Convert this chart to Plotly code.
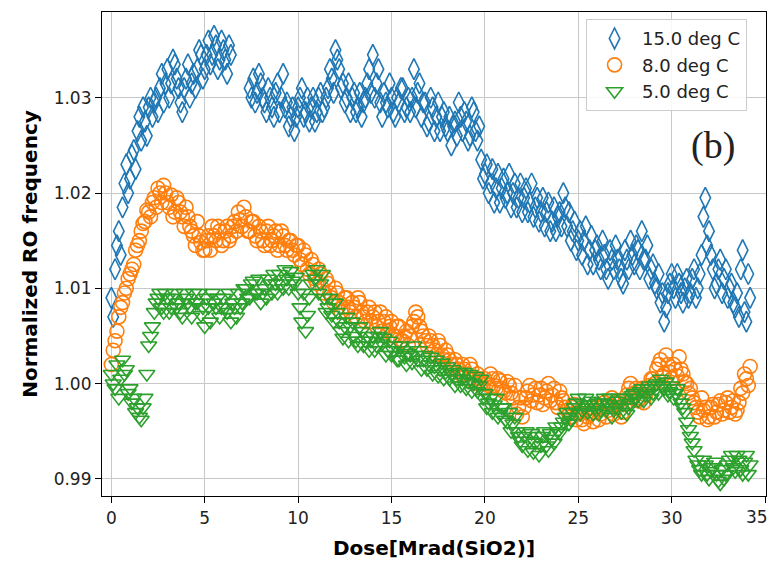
import plotly.graph_objects as go

# Dose samples (Mrad(SiO2)), two interleaved read-off grids
dose_a = [
    0.0, 0.2, 0.4, 0.6, 0.8, 1.0, 1.2, 1.4, 1.6, 1.8,
    2.0, 2.2, 2.4, 2.6, 2.8, 3.0, 3.2, 3.4, 3.6, 3.8,
    4.0, 4.2, 4.4, 4.6, 4.8, 5.0, 5.2, 5.4, 5.6, 5.8,
    6.0, 6.2, 6.4, 6.6, 6.8, 7.0, 7.2, 7.4, 7.6, 7.8,
    8.0, 8.2, 8.4, 8.6, 8.8, 9.0, 9.2, 9.4, 9.6, 9.8,
    10.0, 10.2, 10.4, 10.6, 10.8, 11.0, 11.2, 11.4, 11.6, 11.8,
    12.0, 12.2, 12.4, 12.6, 12.8, 13.0, 13.2, 13.4, 13.6, 13.8,
    14.0, 14.2, 14.4, 14.6, 14.8, 15.0, 15.2, 15.4, 15.6, 15.8,
    16.0, 16.2, 16.4, 16.6, 16.8, 17.0, 17.2, 17.4, 17.6, 17.8,
    18.0, 18.2, 18.4, 18.6, 18.8, 19.0, 19.2, 19.4, 19.6, 19.8,
    20.0, 20.2, 20.4, 20.6, 20.8, 21.0, 21.2, 21.4, 21.6, 21.8,
    22.0, 22.2, 22.4, 22.6, 22.8, 23.0, 23.2, 23.4, 23.6, 23.8,
    24.0, 24.2, 24.4, 24.6, 24.8, 25.0, 25.2, 25.4, 25.6, 25.8,
    26.0, 26.2, 26.4, 26.6, 26.8, 27.0, 27.2, 27.4, 27.6, 27.8,
    28.0, 28.2, 28.4, 28.6, 28.8, 29.0, 29.2, 29.4, 29.6, 29.8,
    30.0, 30.2, 30.4, 30.6, 30.8, 31.0, 31.2, 31.4, 31.6, 31.8,
    32.0, 32.2, 32.4, 32.6, 32.8, 33.0, 33.2, 33.4, 33.6, 33.8,
    34.0, 34.2,
]
dose_b = [
    0.1, 0.3, 0.5, 0.7, 0.9, 1.1, 1.3, 1.5, 1.7, 1.9,
    2.1, 2.3, 2.5, 2.7, 2.9, 3.1, 3.3, 3.5, 3.7, 3.9,
    4.1, 4.3, 4.5, 4.7, 4.9, 5.1, 5.3, 5.5, 5.7, 5.9,
    6.1, 6.3, 6.5, 6.7, 6.9, 7.1, 7.3, 7.5, 7.7, 7.9,
    8.1, 8.3, 8.5, 8.7, 8.9, 9.1, 9.3, 9.5, 9.7, 9.9,
    10.1, 10.3, 10.5, 10.7, 10.9, 11.1, 11.3, 11.5, 11.7, 11.9,
    12.1, 12.3, 12.5, 12.7, 12.9, 13.1, 13.3, 13.5, 13.7, 13.9,
    14.1, 14.3, 14.5, 14.7, 14.9, 15.1, 15.3, 15.5, 15.7, 15.9,
    16.1, 16.3, 16.5, 16.7, 16.9, 17.1, 17.3, 17.5, 17.7, 17.9,
    18.1, 18.3, 18.5, 18.7, 18.9, 19.1, 19.3, 19.5, 19.7, 19.9,
    20.1, 20.3, 20.5, 20.7, 20.9, 21.1, 21.3, 21.5, 21.7, 21.9,
    22.1, 22.3, 22.5, 22.7, 22.9, 23.1, 23.3, 23.5, 23.7, 23.9,
    24.1, 24.3, 24.5, 24.7, 24.9, 25.1, 25.3, 25.5, 25.7, 25.9,
    26.1, 26.3, 26.5, 26.7, 26.9, 27.1, 27.3, 27.5, 27.7, 27.9,
    28.1, 28.3, 28.5, 28.7, 28.9, 29.1, 29.3, 29.5, 29.7, 29.9,
    30.1, 30.3, 30.5, 30.7, 30.9, 31.1, 31.3, 31.5, 31.7, 31.9,
    32.1, 32.3, 32.5, 32.7, 32.9, 33.1, 33.3, 33.5, 33.7, 33.9,
    34.1,
]

freq_15C_a = [
    1.0090, 1.0120, 1.0160, 1.0185, 1.0230, 1.0215, 1.0245, 1.0265, 1.0255, 1.0275,
    1.0290, 1.0280, 1.0300, 1.0310, 1.0295, 1.0330, 1.0315, 1.0335, 1.0310, 1.0285,
    1.0320, 1.0300, 1.0325, 1.0330, 1.0345, 1.0330, 1.0360, 1.0345, 1.0355, 1.0340,
    1.0350, 1.0325, 1.0345, None, None, None, None, 1.0310, 1.0320, 1.0305,
    1.0315, 1.0295, 1.0310, 1.0290, 1.0305, 1.0285, 1.0325, 1.0295, 1.0280, 1.0265,
    1.0290, 1.0310, 1.0285, 1.0275, 1.0300, 1.0285, 1.0305, 1.0290, 1.0310, 1.0320,
    1.0350, 1.0330, 1.0315, 1.0300, 1.0285, 1.0305, 1.0290, 1.0280, 1.0300, 1.0330,
    1.0345, 1.0315, 1.0295, 1.0305, 1.0290, 1.0300, 1.0280, 1.0295, 1.0310, 1.0290,
    1.0285, 1.0330, 1.0305, 1.0280, 1.0295, 1.0275, 1.0290, 1.0280, 1.0265, 1.0285,
    1.0265, 1.0250, 1.0275, 1.0295, 1.0265, 1.0275, 1.0260, 1.0285, 1.0255, 1.0235,
    1.0220, 1.0200, 1.0225, 1.0205, 1.0190, 1.0215, 1.0200, 1.0185, 1.0210, 1.0195,
    1.0180, 1.0205, 1.0190, 1.0175, 1.0195, 1.0180, 1.0165, 1.0190, 1.0170, 1.0160,
    1.0180, 1.0200, 1.0165, 1.0150, 1.0170, 1.0150, 1.0135, 1.0165, 1.0140, 1.0125,
    1.0145, 1.0120, 1.0135, 1.0110, 1.0130, 1.0145, 1.0120, 1.0105, 1.0130, 1.0150,
    1.0125, 1.0140, 1.0160, 1.0130, 1.0110, 1.0125, 1.0100, 1.0085, 1.0065, 1.0095,
    1.0115, 1.0090, 1.0105, 1.0085, 1.0110, 1.0095, 1.0120, 1.0100, 1.0135, 1.0195,
    1.0160, 1.0120, 1.0105, 1.0130, 1.0110, 1.0090, 1.0105, 1.0080, 1.0070, 1.0140,
    1.0065, 1.0090,
]
freq_15C_b = [
    1.0070, 1.0145, 1.0135, 1.0210, 1.0200, 1.0240, 1.0225, 1.0280, 1.0290, 1.0260,
    1.0300, 1.0295, 1.0285, 1.0325, 1.0315, 1.0300, 1.0340, 1.0320, 1.0295, 1.0310,
    1.0335, 1.0315, 1.0310, 1.0350, 1.0320, 1.0345, 1.0335, 1.0365, 1.0330, 1.0360,
    1.0340, 1.0355, None, None, None, None, None, 1.0300, 1.0295, 1.0325,
    1.0300, 1.0285, 1.0300, 1.0280, 1.0315, 1.0300, 1.0290, 1.0270, 1.0290, 1.0280,
    1.0300, 1.0280, 1.0300, 1.0290, 1.0275, 1.0300, 1.0285, 1.0300, 1.0330, 1.0305,
    1.0340, 1.0310, 1.0295, 1.0315, 1.0300, 1.0285, 1.0305, 1.0295, 1.0315, 1.0305,
    1.0300, 1.0330, 1.0280, 1.0295, 1.0315, 1.0285, 1.0300, 1.0310, 1.0285, 1.0300,
    1.0300, 1.0290, 1.0315, 1.0295, 1.0270, 1.0300, 1.0265, 1.0295, 1.0280, 1.0270,
    1.0280, 1.0270, 1.0260, 1.0280, 1.0285, 1.0255, 1.0290, 1.0265, 1.0270, 1.0215,
    1.0230, 1.0210, 1.0190, 1.0220, 1.0205, 1.0195, 1.0220, 1.0200, 1.0185, 1.0210,
    1.0195, 1.0180, 1.0210, 1.0185, 1.0170, 1.0195, 1.0180, 1.0160, 1.0185, 1.0175,
    1.0165, 1.0185, 1.0180, 1.0160, 1.0140, 1.0160, 1.0150, 1.0125, 1.0155, 1.0140,
    1.0130, 1.0150, 1.0120, 1.0140, 1.0120, 1.0130, 1.0110, 1.0140, 1.0120, 1.0135,
    1.0145, 1.0120, 1.0130, 1.0145, 1.0120, 1.0105, 1.0115, 1.0095, 1.0080, 1.0105,
    1.0100, 1.0115, 1.0095, 1.0100, 1.0090, 1.0110, 1.0090, 1.0115, 1.0175, 1.0145,
    1.0135, 1.0100, 1.0120, 1.0095, 1.0120, 1.0100, 1.0085, 1.0095, 1.0120, 1.0075,
    1.0115,
]

freq_8C_a = [
    1.0020, 1.0045, 1.0070, 1.0085, 1.0100, 1.0115, 1.0125, 1.0145, 1.0160, 1.0170,
    1.0180, 1.0190, 1.0185, 1.0200, 1.0208, 1.0190, 1.0198, 1.0180, 1.0190, 1.0175,
    1.0185, 1.0165, 1.0155, 1.0170, 1.0148, 1.0140, 1.0155, 1.0165, 1.0150, 1.0160,
    1.0150, 1.0165, 1.0155, 1.0170, 1.0180, 1.0165, 1.0175, 1.0160, 1.0170, 1.0150,
    1.0160, 1.0145, 1.0165, 1.0150, 1.0160, 1.0145, 1.0155, 1.0140, 1.0150, 1.0135,
    1.0145, 1.0125, 1.0135, 1.0115, 1.0125, 1.0105, 1.0115, 1.0095, 1.0105, 1.0090,
    1.0100, 1.0085, 1.0080, 1.0090, 1.0075, 1.0080, 1.0090, 1.0075, 1.0065, 1.0080,
    1.0070, 1.0060, 1.0075, 1.0065, 1.0055, 1.0065, 1.0050, 1.0060, 1.0045, 1.0055,
    1.0050, 1.0065, 1.0070, 1.0055, 1.0045, 1.0050, 1.0040, 1.0030, 1.0040, 1.0025,
    1.0030, 1.0020, 1.0025, 1.0015, 1.0020, 1.0010, 1.0020, 1.0005, 1.0010, 1.0000,
    1.0005, 0.9998, 1.0005, 0.9995, 1.0003, 0.9992, 1.0002, 0.9990, 0.9998, 0.9975,
    0.9965, 0.9985, 0.9998, 0.9988, 0.9980, 0.9995, 0.9985, 1.0000, 0.9988, 0.9980,
    0.9992, 0.9982, 0.9972, 0.9965, 0.9978, 0.9970, 0.9962, 0.9972, 0.9968, 0.9960,
    0.9975, 0.9968, 0.9980, 0.9972, 0.9985, 0.9975, 0.9982, 0.9970, 0.9988, 1.0000,
    0.9990, 0.9982, 0.9995, 0.9988, 0.9998, 1.0005, 1.0015, 1.0025, 1.0010, 1.0020,
    1.0005, 1.0015, 1.0028, 1.0010, 1.0000, 0.9995, 0.9980, 0.9970, 0.9985, 0.9975,
    0.9965, 0.9978, 0.9970, 0.9982, 0.9972, 0.9985, 0.9975, 0.9968, 0.9980, 0.9990,
    1.0005, 1.0018,
]
freq_8C_b = [
    1.0035, 1.0055, 1.0080, 1.0095, 1.0110, 1.0120, 1.0140, 1.0150, 1.0168, 1.0182,
    1.0175, 1.0195, 1.0205, 1.0190, 1.0200, 1.0185, 1.0175, 1.0195, 1.0180, 1.0165,
    1.0175, 1.0160, 1.0145, 1.0155, 1.0140, 1.0150, 1.0140, 1.0155, 1.0165, 1.0145,
    1.0160, 1.0150, 1.0165, 1.0160, 1.0172, 1.0185, 1.0160, 1.0170, 1.0155, 1.0165,
    1.0150, 1.0160, 1.0145, 1.0155, 1.0140, 1.0160, 1.0145, 1.0150, 1.0140, 1.0145,
    1.0130, 1.0140, 1.0120, 1.0130, 1.0110, 1.0120, 1.0100, 1.0110, 1.0095, 1.0085,
    1.0095, 1.0075, 1.0090, 1.0080, 1.0085, 1.0070, 1.0085, 1.0070, 1.0075, 1.0065,
    1.0075, 1.0065, 1.0055, 1.0070, 1.0060, 1.0050, 1.0060, 1.0045, 1.0050, 1.0040,
    1.0060, 1.0075, 1.0060, 1.0050, 1.0040, 1.0045, 1.0035, 1.0045, 1.0030, 1.0035,
    1.0025, 1.0015, 1.0020, 1.0010, 1.0015, 1.0005, 1.0015, 1.0000, 1.0005, 0.9995,
    1.0000, 1.0010, 0.9998, 1.0005, 0.9995, 0.9990, 0.9998, 0.9985, 0.9968, 0.9985,
    0.9975, 0.9992, 0.9982, 0.9995, 0.9988, 0.9978, 0.9992, 0.9982, 0.9995, 0.9975,
    0.9985, 0.9975, 0.9968, 0.9975, 0.9962, 0.9968, 0.9958, 0.9965, 0.9975, 0.9970,
    0.9962, 0.9975, 0.9965, 0.9978, 0.9968, 0.9980, 0.9965, 0.9978, 0.9995, 0.9985,
    0.9995, 0.9985, 0.9980, 0.9995, 1.0005, 1.0000, 1.0020, 1.0008, 1.0030, 1.0012,
    1.0020, 1.0008, 1.0015, 1.0002, 0.9990, 0.9985, 0.9975, 0.9965, 0.9972, 0.9962,
    0.9975, 0.9965, 0.9978, 0.9968, 0.9980, 0.9970, 0.9982, 0.9972, 0.9995, 1.0010,
    0.9998,
]

freq_5C_a = [
    1.0010, 0.9995, 0.9985, 1.0025, 1.0015, 0.9995, 0.9985, 0.9975, 0.9962, 0.9985,
    1.0040, 1.0060, 1.0085, 1.0095, 1.0075, 1.0090, 1.0080, 1.0095, 1.0085, 1.0070,
    1.0090, 1.0080, 1.0095, 1.0085, 1.0072, 1.0060, 1.0080, 1.0095, 1.0080, 1.0070,
    1.0090, 1.0075, 1.0065, 1.0080, 1.0095, 1.0085, 1.0100, 1.0090, 1.0108, 1.0095,
    1.0085, 1.0100, 1.0110, 1.0095, 1.0105, 1.0115, 1.0100, 1.0110, 1.0118, 1.0105,
    1.0095, 1.0065, 1.0055, 1.0090, 1.0115, 1.0120, 1.0105, 1.0090, 1.0080, 1.0072,
    1.0085, 1.0065, 1.0048, 1.0070, 1.0060, 1.0050, 1.0040, 1.0055, 1.0045, 1.0035,
    1.0050, 1.0040, 1.0055, 1.0048, 1.0035, 1.0030, 1.0040, 1.0025, 1.0035, 1.0020,
    1.0030, 1.0040, 1.0025, 1.0015, 1.0030, 1.0020, 1.0010, 1.0025, 1.0015, 1.0005,
    1.0018, 1.0010, 0.9998, 1.0012, 1.0005, 0.9995, 1.0010, 1.0000, 0.9992, 1.0005,
    0.9990, 0.9980, 0.9970, 0.9985, 0.9968, 0.9975, 0.9960, 0.9950, 0.9965, 0.9945,
    0.9935, 0.9950, 0.9940, 0.9928, 0.9945, 0.9935, 0.9950, 0.9930, 0.9942, 0.9955,
    0.9948, 0.9960, 0.9970, 0.9962, 0.9975, 0.9985, 0.9972, 0.9985, 0.9978, 0.9968,
    0.9980, 0.9972, 0.9985, 0.9978, 0.9965, 0.9975, 0.9985, 0.9978, 0.9968, 0.9980,
    0.9990, 0.9982, 0.9995, 0.9988, 0.9998, 0.9990, 1.0000, 1.0005, 0.9995, 0.9988,
    0.9998, 0.9990, 0.9985, 0.9975, 0.9960, 0.9945, 0.9930, 0.9915, 0.9905, 0.9915,
    0.9900, 0.9912, 0.9905, 0.9895, 0.9900, 0.9915, 0.9925, 0.9908, 0.9920, 0.9905,
    0.9925, 0.9915,
]
freq_5C_b = [
    1.0000, 1.0020, 1.0005, 1.0010, 0.9990, 0.9980, 0.9970, 0.9965, 0.9975, 1.0010,
    1.0050, 1.0075, 1.0090, 1.0080, 1.0095, 1.0075, 1.0090, 1.0080, 1.0075, 1.0095,
    1.0085, 1.0070, 1.0085, 1.0095, 1.0080, 1.0090, 1.0065, 1.0085, 1.0090, 1.0080,
    1.0080, 1.0095, 1.0085, 1.0070, 1.0080, 1.0100, 1.0090, 1.0105, 1.0095, 1.0110,
    1.0095, 1.0090, 1.0105, 1.0115, 1.0095, 1.0105, 1.0120, 1.0100, 1.0108, 1.0112,
    1.0080, 1.0095, 1.0072, 1.0105, 1.0110, 1.0095, 1.0115, 1.0075, 1.0090, 1.0065,
    1.0075, 1.0055, 1.0060, 1.0045, 1.0065, 1.0045, 1.0060, 1.0040, 1.0050, 1.0045,
    1.0035, 1.0050, 1.0042, 1.0030, 1.0045, 1.0035, 1.0025, 1.0040, 1.0028, 1.0032,
    1.0022, 1.0030, 1.0035, 1.0025, 1.0015, 1.0028, 1.0018, 1.0008, 1.0022, 1.0012,
    1.0005, 1.0015, 1.0005, 0.9998, 1.0012, 1.0002, 0.9992, 1.0008, 0.9998, 0.9985,
    0.9975, 0.9985, 0.9978, 0.9965, 0.9975, 0.9962, 0.9970, 0.9958, 0.9950, 0.9940,
    0.9945, 0.9930, 0.9948, 0.9938, 0.9925, 0.9945, 0.9935, 0.9948, 0.9938, 0.9950,
    0.9955, 0.9965, 0.9958, 0.9970, 0.9980, 0.9968, 0.9978, 0.9970, 0.9982, 0.9975,
    0.9968, 0.9980, 0.9972, 0.9985, 0.9972, 0.9982, 0.9970, 0.9985, 0.9975, 0.9988,
    0.9985, 0.9992, 0.9982, 0.9995, 0.9985, 0.9998, 0.9990, 0.9998, 1.0002, 0.9992,
    0.9985, 0.9995, 0.9980, 0.9970, 0.9952, 0.9938, 0.9920, 0.9910, 0.9920, 0.9905,
    0.9908, 0.9918, 0.9898, 0.9910, 0.9905, 0.9920, 0.9912, 0.9925, 0.9910, 0.9918,
    0.9905,
]

series_names = ["15.0 deg C", "8.0 deg C", "5.0 deg C"]
x_ticks = [0, 5, 10, 15, 20, 25, 30, 35]
x_tick_text = ["0", "5", "10", "15", "20", "25", "30", ""]
x_edge_label = "35"
y_ticks = [0.99, 1.00, 1.01, 1.02, 1.03]

colors = ["#1f77b4", "#ff7f0e", "#2ca02c"]
symbols = ["diamond-tall-open", "circle-open", "triangle-down-open"]
sizes = [15, 14, 14]

series_y = [
    (freq_15C_a, freq_15C_b),
    (freq_8C_a, freq_8C_b),
    (freq_5C_a, freq_5C_b),
]

fig = go.Figure()
for name, (ya, yb), c, s, sz in zip(series_names, series_y, colors, symbols, sizes):
    xs, ys = [], []
    for xa, va in zip(dose_a, ya):
        xs.append(xa); ys.append(va)
    for xb, vb in zip(dose_b, yb):
        xs.append(xb); ys.append(vb)
    fig.add_trace(go.Scatter(
        x=xs, y=ys, mode="markers", name=name,
        marker=dict(symbol=s, size=sz, color=c, line=dict(color=c, width=1.6)),
    ))

tick_font = dict(family="DejaVu Sans", size=17, color="#222222")
axis_common = dict(
    showline=True, linecolor="black", linewidth=1.2, mirror=True,
    ticks="outside", ticklen=6, tickwidth=1.2, tickcolor="black",
    showgrid=True, gridcolor="#c8c8c8", gridwidth=1, zeroline=False,
    tickfont=tick_font, automargin=False,
)

fig.update_xaxes(range=[-0.5, 35.05], tickvals=x_ticks, ticktext=x_tick_text,
                 title=dict(text="<b>Dose[Mrad(SiO2)]</b>", standoff=14,
                            font=dict(family="DejaVu Sans", size=20, color="black")),
                 **axis_common)
fig.update_yaxes(range=[0.9882, 1.039], tickvals=y_ticks, tickformat=".2f",
                 title=dict(text="<b>Normalized RO frequency</b>", standoff=10,
                            font=dict(family="DejaVu Sans", size=20, color="black")),
                 **axis_common)

fig.update_layout(
    width=771, height=563,
    margin=dict(l=102, r=5, t=12, b=67),
    plot_bgcolor="white", paper_bgcolor="white",
    legend=dict(x=0.729, y=0.985, xanchor="left", yanchor="top",
                bgcolor="rgba(255,255,255,0.85)", bordercolor="#cccccc", borderwidth=1,
                font=dict(family="DejaVu Sans", size=18, color="#222222"),
                itemwidth=45, tracegroupgap=0),
    showlegend=True,
    annotations=[
        dict(text="(b)", x=0.92, y=0.725, xref="paper", yref="paper",
             xanchor="center", yanchor="middle",
             showarrow=False, font=dict(family="Liberation Serif", size=38, color="#222222")),
        # last x tick label kept fully inside the page edge
        dict(text=x_edge_label, x=x_ticks[-1], y=0, xref="x", yref="paper",
             xanchor="right", yanchor="middle", xshift=5, yshift=-21,
             showarrow=False, font=tick_font),
    ],
)

fig.write_html("out.html")
